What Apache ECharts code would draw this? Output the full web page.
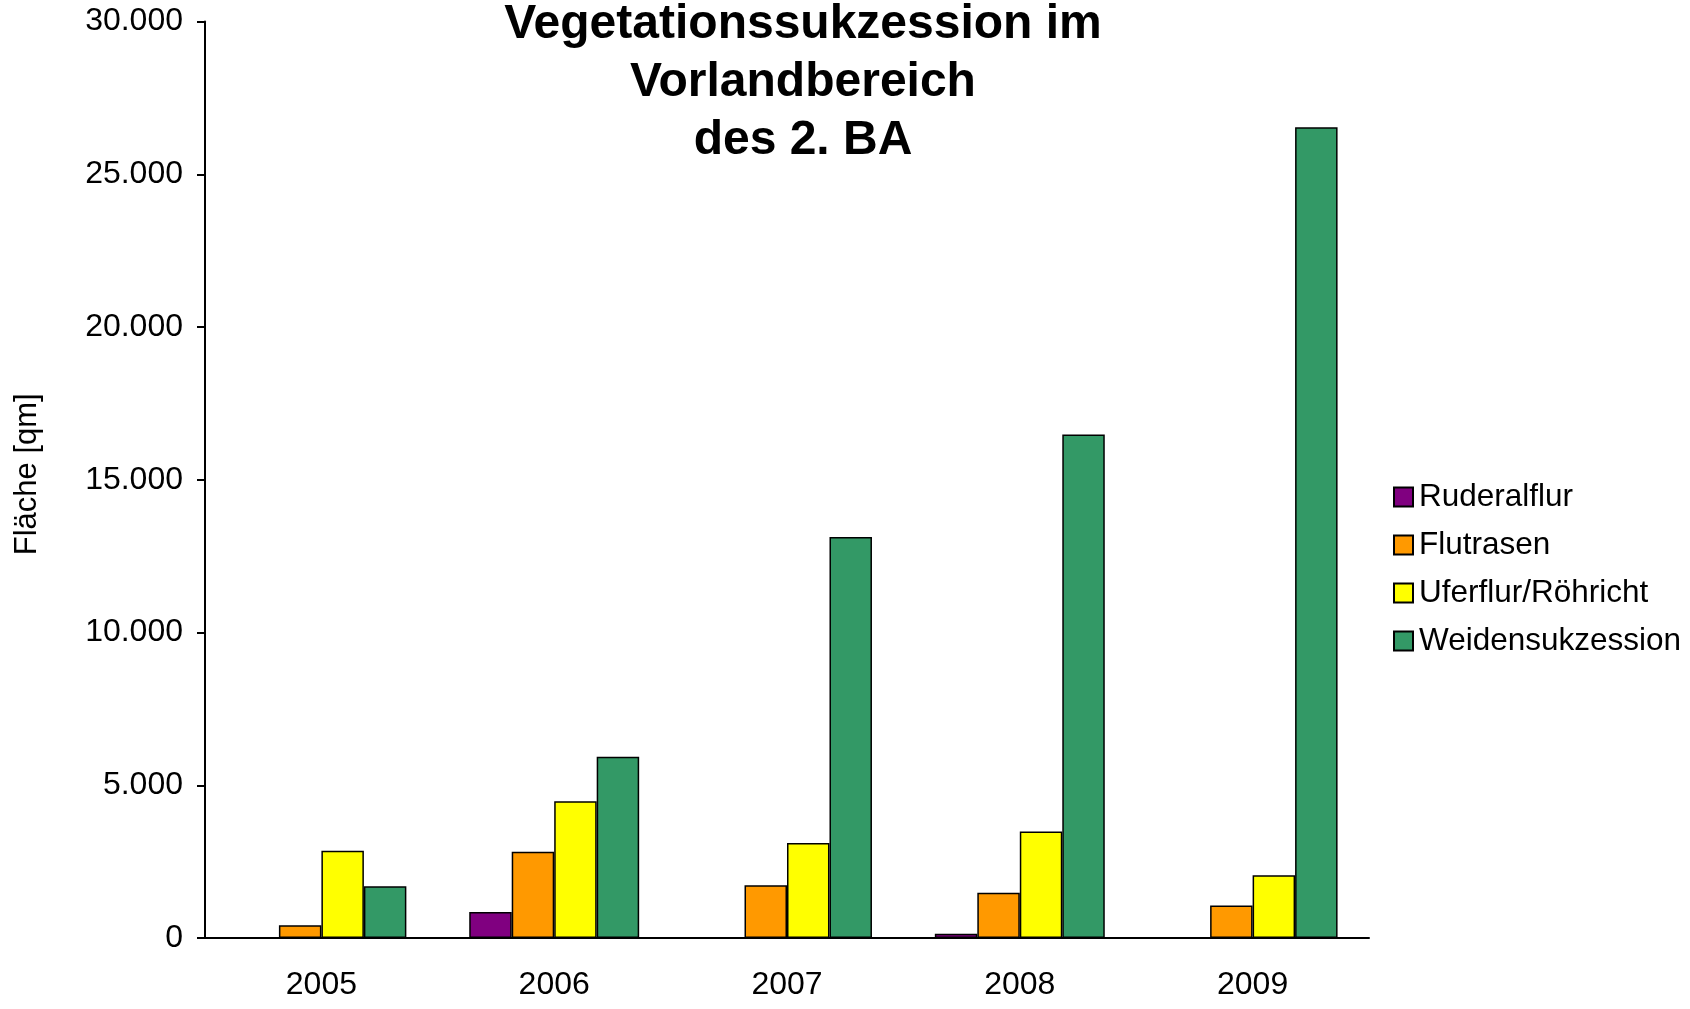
<!DOCTYPE html>
<html>
<head>
<meta charset="utf-8">
<script src="https://cdn.jsdelivr.net/npm/echarts@6/dist/echarts.min.js"></script>
<style>
  html, body { margin: 0; padding: 0; background: #fff; }
  #myChart { width: 1690px; height: 1009px; }
</style>
</head>
<body>
<div id="myChart"></div>
<script>
// Jahre und Flächen [qm] pro Vegetationstyp
var years = ['2005', '2006', '2007', '2008', '2009'];
var ruderalflur = [0, 850, 0, 140, 0];
var flutrasen = [420, 2820, 1730, 1480, 1060];
var uferflur = [2860, 4480, 3110, 3490, 2050];
var weiden = [1690, 5930, 13130, 16480, 26540];

var font = '"Liberation Sans", Arial, sans-serif';

function fmt (v) {
  // 30000 -> 30.000
  return String(v).replace(/\B(?=(\d{3})+(?!\d))/g, '.');
}

function bar (name, color, data) {
  return {
    name: name,
    type: 'bar',
    barGap: '0%',
    barCategoryGap: '27%',
    itemStyle: { color: color, borderColor: '#000', borderWidth: 1.5 },
    data: data
  };
}

var myChart = echarts.init(document.getElementById('myChart'));
myChart.setOption({
  backgroundColor: '#fff',
  animation: false,
  textStyle: { fontFamily: font, color: '#000' },
  title: {
    text: 'Vegetationssukzession im\nVorlandbereich\ndes 2. BA',
    left: 803,
    top: -4,
    padding: 0,
    textAlign: 'center',
    textStyle: {
      fontFamily: font,
      fontSize: 48,
      fontWeight: 'bold',
      lineHeight: 58,
      color: '#000'
    }
  },
  legend: {
    orient: 'vertical',
    left: 1393,
    top: 481,
    padding: 0,
    itemWidth: 19,
    itemHeight: 19,
    itemGap: 16,
    icon: 'rect',
    textStyle: { fontFamily: font, fontSize: 31.5, color: '#000', lineHeight: 31, padding: [0, 0, 0, 1] },
    data: ['Ruderalflur', 'Flutrasen', 'Uferflur/Röhricht', 'Weidensukzession']
  },
  grid: { left: 205, right: 321, top: 21.5, bottom: 71, containLabel: false },
  xAxis: {
    type: 'category',
    data: years,
    axisLine: { lineStyle: { color: '#000', width: 2 } },
    axisTick: { length: 8, lineStyle: { color: '#000', width: 2 } },
    axisLabel: { fontFamily: font, fontSize: 32, color: '#000', margin: 31 }
  },
  yAxis: {
    type: 'value',
    min: 0,
    max: 30000,
    interval: 5000,
    name: 'Fläche [qm]',
    nameLocation: 'middle',
    nameGap: 162,
    nameTextStyle: { fontFamily: font, fontSize: 31, color: '#000', padding: [0, 0, 0, 11] },
    axisLine: { show: true, lineStyle: { color: '#000', width: 2 } },
    axisTick: { show: true, length: 8, lineStyle: { color: '#000', width: 2 } },
    splitLine: { show: false },
    axisLabel: { fontFamily: font, fontSize: 32, color: '#000', margin: 22, formatter: fmt }
  },
  series: [
    bar('Ruderalflur', '#800080', ruderalflur),
    bar('Flutrasen', '#FF9900', flutrasen),
    bar('Uferflur/Röhricht', '#FFFF00', uferflur),
    bar('Weidensukzession', '#339966', weiden)
  ]
});
</script>
</body>
</html>
